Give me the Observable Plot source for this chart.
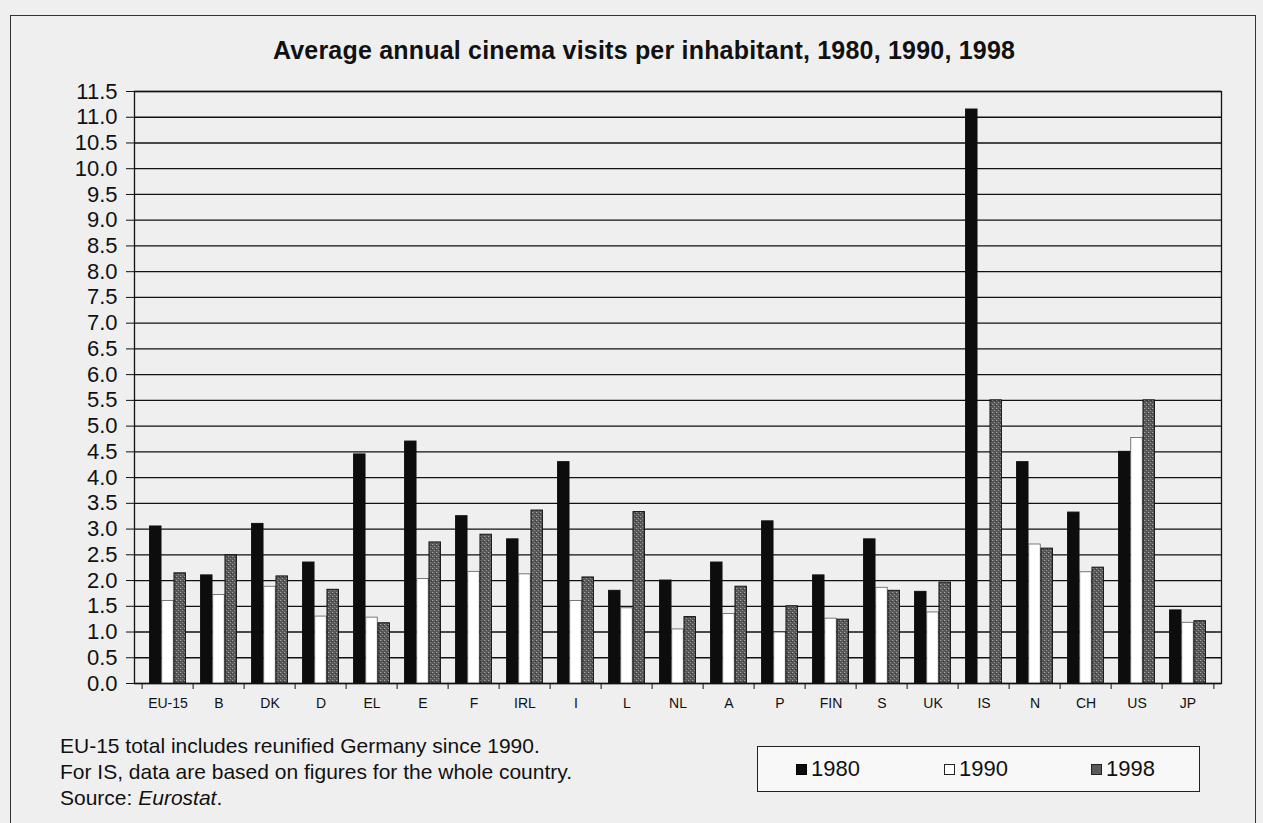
<!DOCTYPE html>
<html><head><meta charset="utf-8">
<script src="https://cdn.jsdelivr.net/npm/d3@7"></script>
<script src="https://cdn.jsdelivr.net/npm/@observablehq/plot@0.6"></script>
<style>
body{margin:0;background:#efefef;font-family:"Liberation Sans",Arial,sans-serif;color:#111;}
#wrap{position:relative;width:1263px;height:823px;overflow:hidden;}
#border{position:absolute;left:10px;top:15px;width:1246px;height:840px;border:1.5px solid #333;box-sizing:border-box;}
#title{position:absolute;top:36px;left:0;width:1288px;text-align:center;font-weight:bold;font-size:25px;letter-spacing:0.2px;}
#chart{position:absolute;top:80px;left:0;}
#notes{position:absolute;left:60px;top:733px;font-size:21px;line-height:26px;}
#legend{position:absolute;left:757px;top:746px;width:443px;height:46px;border:1.5px solid #222;box-sizing:border-box;background:#f8f8f8;font-size:22px;}
#legend .it{position:absolute;top:9px;display:flex;align-items:center;}
#legend .sw{display:inline-block;width:11px;height:11px;margin-right:4px;box-sizing:border-box;}
</style></head>
<body><div id="wrap">
<div id="border"></div>
<div id="title">Average annual cinema visits per inhabitant, 1980, 1990, 1998</div>
<div id="chart"></div>
<div id="notes">EU-15 total includes reunified Germany since 1990.<br>For IS, data are based on figures for the whole country.<br>Source: <i>Eurostat</i>.</div>
<div id="legend"></div>
</div>
<script>
const countries = ["EU-15","B","DK","D","EL","E","F","IRL","I","L","NL","A","P","FIN","S","UK","IS","N","CH","US","JP"];
const v1980 = [3.05,2.1,3.1,2.35,4.45,4.7,3.25,2.8,4.3,1.8,2.0,2.35,3.15,2.1,2.8,1.78,11.15,4.3,3.32,4.5,1.42];
const v1990 = [1.6,1.72,1.88,1.3,1.28,2.03,2.17,2.12,1.6,1.46,1.05,1.35,0.99,1.26,1.86,1.38,null,2.7,2.16,4.77,1.18];
const v1998 = [2.14,2.49,2.08,1.82,1.17,2.74,2.89,3.36,2.06,3.33,1.29,1.88,1.5,1.24,1.8,1.96,5.5,2.62,2.25,5.5,1.21];
const years = ["1980","1990","1998"];
const yTicks = d3.range(0, 11.51, 0.5);

const rows = (vals) => countries.map((c, i) => ({country: c, value: vals[i]})).filter(d => d.value != null);
const W = 1263, H = 660, mL = 134, mR = 42, mT = 11, mB = 57;
const step = (W - mL - mR) / countries.length;
const barW = 12.2;
const inset = (step - barW) / 2;
const fills = {"1980": "#0d0d0d", "1990": "#ffffff", "1998": "url(#p98)"};
const series = {"1980": v1980, "1990": v1990, "1998": v1998};

const barMark = (yr, k) => Plot.barY(rows(series[yr]), {
  x: "country", y: "value", fill: fills[yr],
  stroke: yr === "1990" ? "#444" : "#111", strokeWidth: yr === "1990" ? 0.7 : 1,
  insetLeft: inset, insetRight: inset, dx: (k - 1) * barW
});

const plot = Plot.plot({
  width: W, height: H,
  marginLeft: mL, marginRight: mR, marginTop: mT, marginBottom: mB,
  style: {background: "transparent", fontFamily: "'Liberation Sans', Arial, sans-serif", color: "#111"},
  x: {domain: countries, padding: 0, label: null, tickSize: 0, tickPadding: 14},
  y: {domain: [0, 11.5], ticks: yTicks, tickFormat: d => d.toFixed(1), label: null, tickSize: 8, tickPadding: 9},
  marks: [
    Plot.gridY(yTicks, {stroke: "#111", strokeOpacity: 1, strokeWidth: 1.3}),
    barMark("1980", 0), barMark("1990", 1), barMark("1998", 2),
    Plot.ruleX(countries, {x: d => d, dx: -step / 2, y1: 0, y2: 0, insetBottom: -6, stroke: "#111"}),
    Plot.ruleX(countries.slice(-1), {x: d => d, dx: step / 2, y1: 0, y2: 0, insetBottom: -6, stroke: "#111"}),
    Plot.frame({stroke: "#111", strokeWidth: 1.3}),
    Plot.axisY({ticks: yTicks, tickFormat: d => d.toFixed(1), tickSize: 8, tickPadding: 9, fontSize: 22, label: null}),
    Plot.axisX({tickSize: 0, tickPadding: 15, fontSize: 14, label: null})
  ]
});

const defs = document.createElementNS("http://www.w3.org/2000/svg", "defs");
defs.innerHTML = '<pattern id="p98" width="4" height="4" patternUnits="userSpaceOnUse">' +
  '<rect width="4" height="4" fill="#585858"/><rect x="0" y="0" width="1" height="1" fill="#b5b5b5"/>' +
  '<rect x="2" y="2" width="1" height="1" fill="#9a9a9a"/><rect x="3" y="1" width="1" height="1" fill="#2e2e2e"/></pattern>';
plot.insertBefore(defs, plot.firstChild);
document.getElementById("chart").appendChild(plot);

// legend
const legend = document.getElementById("legend");
const legendPos = {"1980": 38, "1990": 186, "1998": 333};
const swStyle = {"1980": "background:#0d0d0d;border:1px solid #000;", "1990": "background:#fff;border:1px solid #222;", "1998": "background:#5a5a5a;border:1px solid #222;"};
years.forEach(yr => {
  const it = document.createElement("div");
  it.className = "it";
  it.style.left = legendPos[yr] + "px";
  it.innerHTML = '<span class="sw" style="' + swStyle[yr] + '"></span><span>' + yr + '</span>';
  legend.appendChild(it);
});
</script>
</body></html>
